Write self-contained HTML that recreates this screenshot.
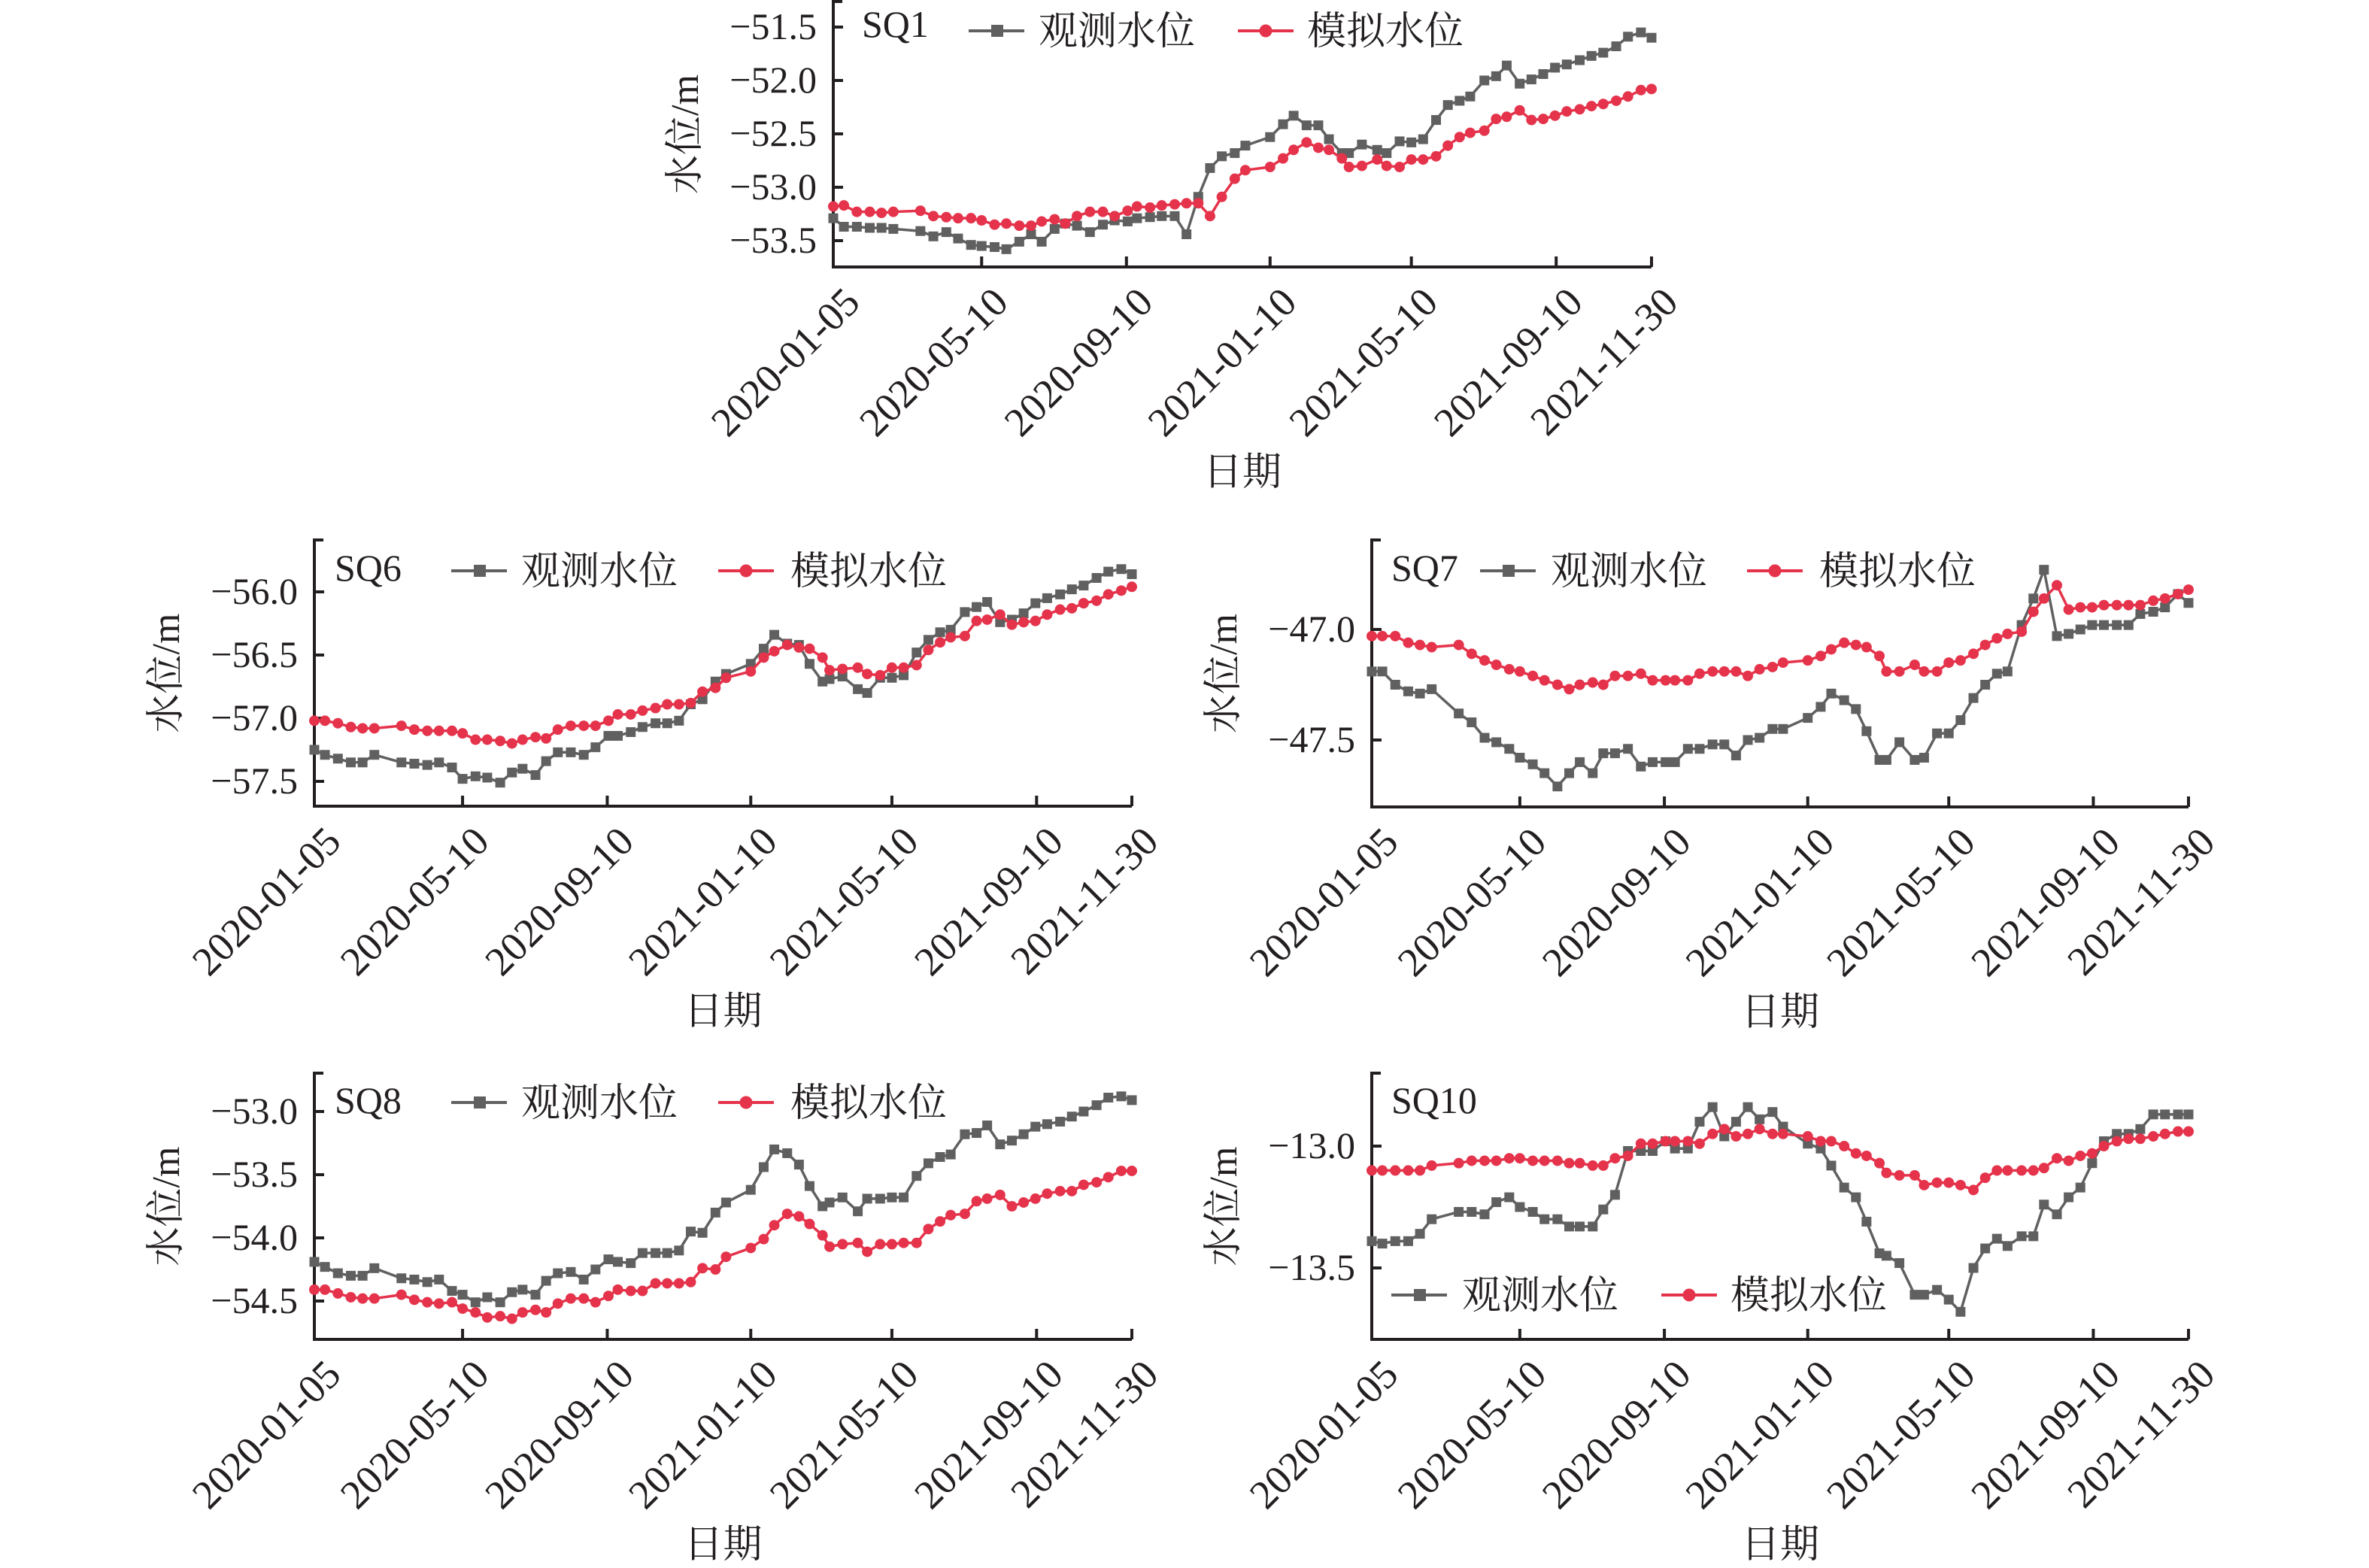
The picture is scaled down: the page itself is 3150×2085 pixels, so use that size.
<!DOCTYPE html>
<html><head><meta charset="utf-8"><style>
html,body{margin:0;padding:0;background:#fff}
svg{display:block}
text{font-family:"Liberation Serif","Noto Serif CJK SC","Noto Sans CJK SC",serif;fill:#231f20}
</style></head><body>
<svg id="fig" xmlns="http://www.w3.org/2000/svg" width="3150" height="2085" viewBox="0 0 3150 2085"></svg>
<script>
// Day offsets from 2020-01-05 for each sample
const dayOffsets=[0,9,20,31,41,51,74,85,96,106,117,126,137,147,158,168,177,188,197,207,218,229,239,250,258,269,279,290,300,310,320,330,341,350,371,382,391,402,412,421,432,438,449,462,470,481,491,501,512,522,532,541,553,563,572,583,593,603,613,623,634,644,654,665,675,686,695];
const dateTickLabels=["2020-01-05","2020-05-10","2020-09-10","2021-01-10","2021-05-10","2021-09-10","2021-11-30"];
const dateTickDays=[0,126,249,371,491,614,695];

const sq1Obs=[-53.29,-53.37,-53.37,-53.38,-53.38,-53.39,-53.41,-53.46,-53.42,-53.48,-53.54,-53.55,-53.56,-53.58,-53.51,-53.44,-53.51,-53.39,-53.34,-53.36,-53.42,-53.35,-53.31,-53.32,-53.29,-53.28,-53.27,-53.27,-53.44,-53.09,-52.82,-52.71,-52.68,-52.61,-52.53,-52.41,-52.33,-52.42,-52.42,-52.55,-52.68,-52.68,-52.60,-52.65,-52.68,-52.57,-52.58,-52.55,-52.37,-52.23,-52.19,-52.15,-52.00,-51.96,-51.86,-52.03,-51.99,-51.94,-51.88,-51.85,-51.81,-51.77,-51.74,-51.68,-51.59,-51.55,-51.60];
const sq1Sim=[-53.18,-53.17,-53.23,-53.23,-53.24,-53.23,-53.22,-53.27,-53.28,-53.29,-53.29,-53.31,-53.35,-53.34,-53.36,-53.36,-53.32,-53.30,-53.34,-53.27,-53.23,-53.23,-53.27,-53.22,-53.18,-53.19,-53.17,-53.16,-53.15,-53.15,-53.27,-53.09,-52.92,-52.84,-52.81,-52.73,-52.65,-52.58,-52.63,-52.65,-52.73,-52.81,-52.80,-52.74,-52.80,-52.81,-52.74,-52.74,-52.71,-52.61,-52.53,-52.49,-52.47,-52.36,-52.34,-52.28,-52.37,-52.36,-52.33,-52.29,-52.27,-52.24,-52.22,-52.19,-52.15,-52.09,-52.08];
const sq6Obs=[-57.25,-57.29,-57.32,-57.35,-57.35,-57.29,-57.35,-57.36,-57.37,-57.35,-57.39,-57.48,-57.46,-57.47,-57.51,-57.43,-57.40,-57.45,-57.34,-57.27,-57.27,-57.29,-57.23,-57.14,-57.14,-57.11,-57.07,-57.04,-57.04,-57.02,-56.89,-56.85,-56.71,-56.65,-56.57,-56.45,-56.34,-56.41,-56.42,-56.57,-56.71,-56.69,-56.67,-56.77,-56.80,-56.68,-56.68,-56.66,-56.48,-56.38,-56.32,-56.30,-56.16,-56.12,-56.08,-56.24,-56.22,-56.17,-56.09,-56.05,-56.02,-55.98,-55.95,-55.89,-55.84,-55.82,-55.86];
const sq6Sim=[-57.02,-57.02,-57.04,-57.07,-57.08,-57.08,-57.06,-57.09,-57.10,-57.10,-57.10,-57.12,-57.17,-57.17,-57.18,-57.20,-57.17,-57.15,-57.16,-57.09,-57.06,-57.06,-57.06,-57.02,-56.97,-56.97,-56.94,-56.92,-56.89,-56.89,-56.88,-56.79,-56.76,-56.68,-56.63,-56.52,-56.47,-56.42,-56.44,-56.45,-56.52,-56.62,-56.61,-56.60,-56.65,-56.66,-56.60,-56.60,-56.58,-56.46,-56.40,-56.36,-56.35,-56.23,-56.22,-56.18,-56.26,-56.24,-56.23,-56.18,-56.14,-56.13,-56.09,-56.07,-56.02,-55.99,-55.96];
const sq7Obs=[-47.19,-47.19,-47.25,-47.28,-47.29,-47.27,-47.38,-47.42,-47.49,-47.51,-47.54,-47.58,-47.61,-47.65,-47.71,-47.65,-47.60,-47.65,-47.56,-47.56,-47.54,-47.62,-47.60,-47.60,-47.60,-47.54,-47.54,-47.52,-47.52,-47.57,-47.50,-47.49,-47.45,-47.45,-47.40,-47.35,-47.29,-47.32,-47.36,-47.46,-47.59,-47.59,-47.51,-47.59,-47.58,-47.47,-47.47,-47.41,-47.31,-47.25,-47.20,-47.19,-46.98,-46.86,-46.73,-47.03,-47.02,-47.00,-46.98,-46.98,-46.98,-46.98,-46.93,-46.92,-46.90,-46.84,-46.88];
const sq7Sim=[-47.03,-47.03,-47.03,-47.06,-47.07,-47.08,-47.07,-47.11,-47.14,-47.16,-47.18,-47.19,-47.21,-47.23,-47.25,-47.27,-47.25,-47.24,-47.25,-47.21,-47.21,-47.20,-47.23,-47.23,-47.23,-47.23,-47.20,-47.19,-47.19,-47.19,-47.21,-47.18,-47.17,-47.15,-47.14,-47.12,-47.09,-47.06,-47.07,-47.08,-47.12,-47.19,-47.19,-47.16,-47.19,-47.19,-47.15,-47.14,-47.11,-47.07,-47.04,-47.02,-47.01,-46.92,-46.86,-46.80,-46.91,-46.90,-46.90,-46.89,-46.89,-46.89,-46.89,-46.87,-46.86,-46.84,-46.82];
const sq8Obs=[-54.19,-54.23,-54.28,-54.30,-54.30,-54.24,-54.32,-54.33,-54.35,-54.33,-54.42,-54.45,-54.51,-54.47,-54.51,-54.43,-54.41,-54.45,-54.34,-54.28,-54.27,-54.33,-54.25,-54.17,-54.19,-54.20,-54.12,-54.12,-54.12,-54.10,-53.95,-53.96,-53.80,-53.72,-53.62,-53.44,-53.30,-53.33,-53.42,-53.59,-53.75,-53.72,-53.68,-53.79,-53.69,-53.69,-53.68,-53.68,-53.51,-53.41,-53.36,-53.34,-53.18,-53.17,-53.11,-53.26,-53.23,-53.18,-53.12,-53.10,-53.08,-53.04,-53.00,-52.95,-52.89,-52.88,-52.91];
const sq8Sim=[-54.41,-54.41,-54.44,-54.47,-54.48,-54.48,-54.45,-54.49,-54.51,-54.52,-54.51,-54.56,-54.59,-54.63,-54.62,-54.64,-54.59,-54.57,-54.59,-54.52,-54.48,-54.48,-54.51,-54.46,-54.41,-54.42,-54.42,-54.36,-54.36,-54.36,-54.35,-54.24,-54.25,-54.15,-54.08,-54.01,-53.90,-53.81,-53.83,-53.89,-53.98,-54.07,-54.05,-54.04,-54.11,-54.05,-54.05,-54.04,-54.04,-53.93,-53.87,-53.82,-53.81,-53.71,-53.69,-53.66,-53.75,-53.72,-53.69,-53.65,-53.63,-53.63,-53.58,-53.56,-53.52,-53.47,-53.47];
const sq10Obs=[-13.39,-13.40,-13.39,-13.39,-13.36,-13.30,-13.27,-13.27,-13.28,-13.23,-13.21,-13.25,-13.27,-13.30,-13.30,-13.33,-13.33,-13.33,-13.26,-13.20,-13.02,-13.02,-13.02,-12.98,-13.01,-13.01,-12.90,-12.84,-12.96,-12.90,-12.84,-12.89,-12.86,-12.92,-12.99,-13.01,-13.08,-13.17,-13.21,-13.31,-13.44,-13.45,-13.48,-13.61,-13.61,-13.59,-13.63,-13.68,-13.50,-13.42,-13.38,-13.41,-13.37,-13.37,-13.24,-13.28,-13.21,-13.17,-13.07,-12.98,-12.95,-12.95,-12.93,-12.87,-12.87,-12.87,-12.87];
const sq10Sim=[-13.10,-13.10,-13.10,-13.10,-13.10,-13.08,-13.07,-13.06,-13.06,-13.06,-13.05,-13.05,-13.06,-13.06,-13.06,-13.07,-13.07,-13.08,-13.08,-13.05,-13.04,-12.99,-12.99,-12.98,-12.98,-12.98,-12.99,-12.95,-12.93,-12.96,-12.95,-12.93,-12.95,-12.95,-12.96,-12.98,-12.98,-13.00,-13.03,-13.04,-13.07,-13.11,-13.12,-13.12,-13.16,-13.15,-13.15,-13.16,-13.18,-13.13,-13.10,-13.10,-13.10,-13.10,-13.09,-13.05,-13.06,-13.04,-13.03,-13.00,-12.98,-12.97,-12.97,-12.96,-12.95,-12.94,-12.94];

const sq1Ticks=[-51.5,-52.0,-52.5,-53.0,-53.5];
const sq6Ticks=[-56.0,-56.5,-57.0,-57.5];
const sq7Ticks=[-47.0,-47.5];
const sq8Ticks=[-53.0,-53.5,-54.0,-54.5];
const sq10Ticks=[-13.0,-13.5];

const NS="http://www.w3.org/2000/svg";
const svg=document.getElementById('fig');
const GRAY="#606060", RED="#e5334b", INK="#231f20";
function mk(tag,attrs,parent){const e=document.createElementNS(NS,tag);for(const k in attrs)e.setAttribute(k,attrs[k]);(parent||svg).appendChild(e);return e;}
function fmt(v){return (v<0?"\u2212":"")+Math.abs(v).toFixed(1);}

function panel(p){
  const g=mk('g',{});
  
  
  const xs=d=>p.x0+d*(p.x1-p.x0)/695;
  const ys=v=>p.ya+(v-p.va)*(p.yb-p.ya)/(p.vb-p.va);
  const ax=mk('path',{d:`M${p.x0+12} ${p.top}H${p.x0}V${p.bottom}H${p.x1}`,fill:'none',stroke:INK,'stroke-width':4},g);
  
  
  p.ticks.forEach(t=>{
    const y=ys(t);
    const tk=mk('line',{x1:p.x0,x2:p.x0+13,y1:y,y2:y,stroke:INK,'stroke-width':4},g);
    
    
    const tl=mk('text',{x:p.x0-22,y:y+16,'text-anchor':'end','font-size':50},g);
    tl.textContent=fmt(t);
    
    
  });
  dateTickDays.forEach((d,i)=>{
    const x=xs(d);
    if(i>0){const tk=mk('line',{x1:x,x2:x,y1:p.bottom,y2:p.bottom-14,stroke:INK,'stroke-width':4},g);
    
    }
    const tl=mk('text',{x:0,y:0,'text-anchor':'end','font-size':54,transform:`translate(${x+38},${p.bottom+50}) rotate(-45)`},g);
    tl.textContent=dateTickLabels[i];
    
    
  });
  const xt=mk('text',{x:(p.x0+p.x1)/2,y:p.bottom+290,'text-anchor':'middle','font-size':52},g);
  xt.textContent='日期';
  
  
  const yt=mk('text',{x:0,y:0,'text-anchor':'middle','font-size':52,transform:`translate(${p.x0-180},${(p.top+p.bottom)/2}) rotate(-90)`},g);
  yt.textContent='水位/m';
  
  
  function series(vals,color,shape,name){
    const sg=mk('g',{},g);
    
    
    const pts=vals.map((v,i)=>[xs(dayOffsets[i]),ys(v)]);
    mk('polyline',{points:pts.map(q=>q.join(',')).join(' '),fill:'none',stroke:color,'stroke-width':3.5},sg);
    pts.forEach(q=>{
      let m;
      if(shape==='sq') m=mk('rect',{x:q[0]-6.5,y:q[1]-6.5,width:13,height:13,fill:color},sg);
      else m=mk('circle',{cx:q[0],cy:q[1],r:7,fill:color},sg);
      
      
    });
  }
  series(p.obs,GRAY,'sq','observed-series');
  series(p.sim,RED,'ci','simulated-series');
  const st=mk('text',{x:p.lab[0],y:p.lab[1]+17,'font-size':50},g);
  st.textContent=p.key.toUpperCase();
  
  
  const L=p.leg;
  const lg=mk('g',{},g);
  
  
  const e1=mk('g',{},lg);
  
  
  mk('line',{x1:L.gx,x2:L.gx+74,y1:L.y,y2:L.y,stroke:GRAY,'stroke-width':4},e1);
  mk('rect',{x:L.gx+30,y:L.y-8,width:16,height:16,fill:GRAY},e1);
  const t1=mk('text',{x:L.gt,y:L.y+18,'font-size':52},e1);t1.textContent='观测水位';
  const e2=mk('g',{},lg);
  
  
  mk('line',{x1:L.rx,x2:L.rx+74,y1:L.y,y2:L.y,stroke:RED,'stroke-width':4},e2);
  mk('circle',{cx:L.rx+37,cy:L.y,r:8.5,fill:RED},e2);
  const t2=mk('text',{x:L.rt,y:L.y+18,'font-size':52},e2);t2.textContent='模拟水位';
}

panel({key:'sq1',x0:1108,x1:2196,top:2,bottom:355,ya:36,va:-51.5,yb:320,vb:-53.5,ticks:sq1Ticks,obs:sq1Obs,sim:sq1Sim,lab:[1146,32],leg:{y:41,gx:1288,gt:1381,rx:1646,rt:1738}});
panel({key:'sq6',x0:418,x1:1505,top:718,bottom:1072,ya:787,va:-56.0,yb:1039,vb:-57.5,ticks:sq6Ticks,obs:sq6Obs,sim:sq6Sim,lab:[445,755],leg:{y:759,gx:600,gt:693,rx:955,rt:1051}});
panel({key:'sq7',x0:1824,x1:2910,top:718,bottom:1073,ya:837,va:-47.0,yb:984,vb:-47.5,ticks:sq7Ticks,obs:sq7Obs,sim:sq7Sim,lab:[1850,755],leg:{y:759,gx:1968,gt:2062,rx:2323,rt:2419}});
panel({key:'sq8',x0:418,x1:1505,top:1427,bottom:1781,ya:1478,va:-53.0,yb:1730,vb:-54.5,ticks:sq8Ticks,obs:sq8Obs,sim:sq8Sim,lab:[445,1463],leg:{y:1466,gx:600,gt:693,rx:955,rt:1051}});
panel({key:'sq10',x0:1824,x1:2910,top:1427,bottom:1781,ya:1524,va:-13.0,yb:1686,vb:-13.5,ticks:sq10Ticks,obs:sq10Obs,sim:sq10Sim,lab:[1850,1463],leg:{y:1722,gx:1850,gt:1944,rx:2209,rt:2301}});
</script>
</body></html>
